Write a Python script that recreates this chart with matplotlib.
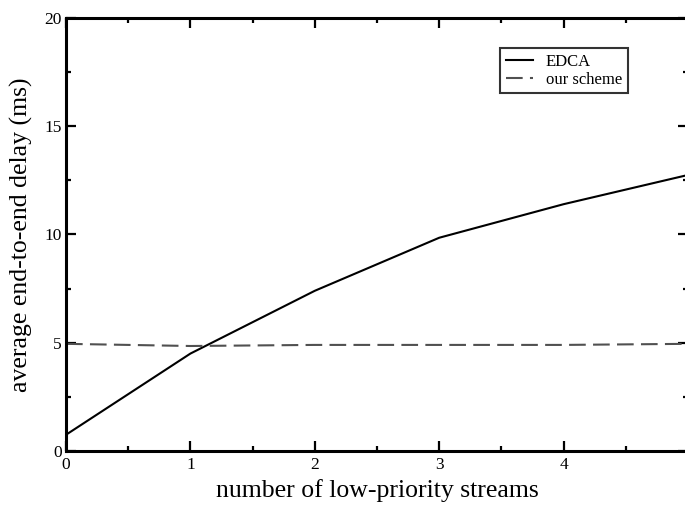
import numpy as np
import matplotlib
matplotlib.use("Agg")
import matplotlib.pyplot as plt

# values
streams = [0, 1, 2, 3, 4, 5]
edca = [0.75, 4.5, 7.4, 9.85, 11.4, 12.75]
ours = [4.95, 4.85, 4.9, 4.9, 4.9, 4.95]

plt.rcParams['font.family'] = ['Liberation Serif', 'DejaVu Serif']

fig = plt.figure(figsize=(6.85, 5.05), dpi=100)
ax = fig.add_axes([66 / 685, 54 / 505, 622 / 685, 433 / 505])

ax.plot(streams, edca, color='black', lw=1.5, label='EDCA')
ax.plot(streams, ours, color='#505050', lw=1.5, dashes=(8, 3.5), label='our scheme')

ax.set_xlim(0, 5)
ax.set_ylim(0, 20)
ax.set_xticks(np.arange(0, 6, 1))
ax.set_xticks(np.arange(0, 5.01, 0.5), minor=True)
ax.set_yticks(np.arange(0, 21, 5))
ax.set_yticks(np.arange(0, 20.1, 2.5), minor=True)
ax.tick_params(which='both', direction='in', top=True, right=True, width=1.6,
               labelsize=12.5)
ax.tick_params(axis='x', pad=4)
ax.tick_params(axis='y', pad=3)
ax.tick_params(which='major', length=7)
ax.tick_params(which='minor', length=3.5)
for s in ax.spines.values():
    s.set_linewidth(2.2)

ax.set_xlabel('number of low-priority streams', fontsize=18.5, labelpad=5)
ax.set_ylabel('average end-to-end delay (ms)', fontsize=18.5, labelpad=8)

leg = ax.legend(loc='upper left', bbox_to_anchor=(500 / 685, 1 - 48 / 505),
                bbox_transform=fig.transFigure, fontsize=12, frameon=True,
                fancybox=False, edgecolor='black', handlelength=1.6,
                borderpad=0.35, labelspacing=0.1, handletextpad=0.8,
                borderaxespad=0)
leg.get_frame().set_linewidth(1.5)

fig.savefig('out.png', dpi=100)
